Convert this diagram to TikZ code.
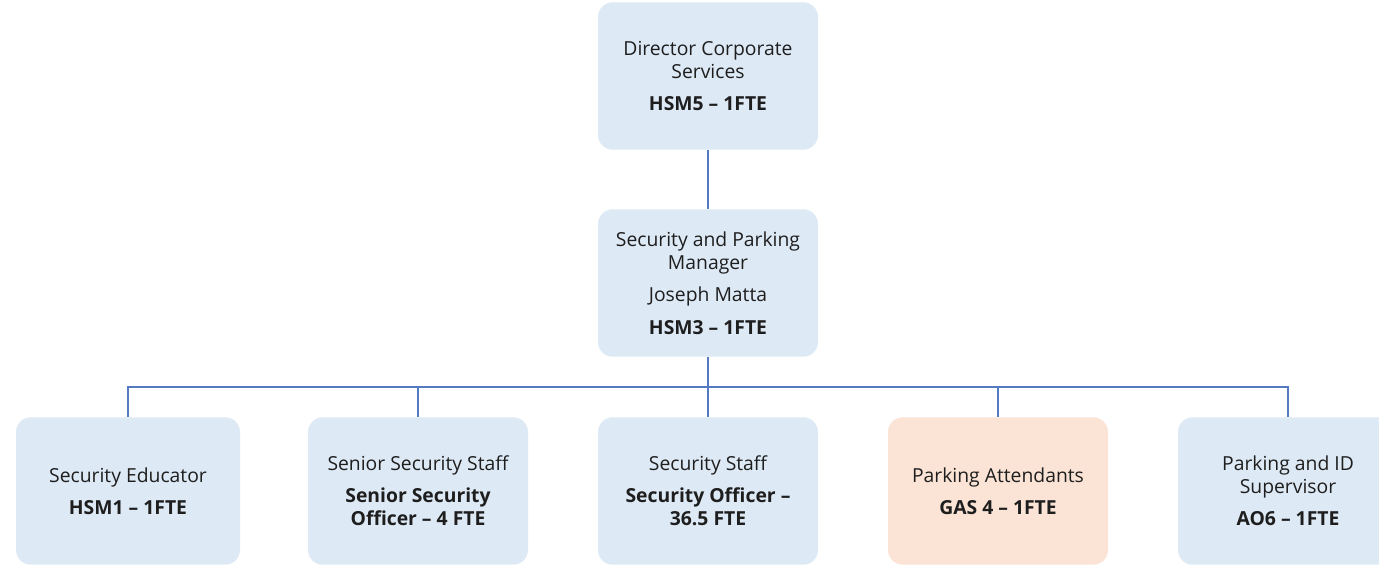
\documentclass[tikz,border=0pt]{standalone}
\usepackage{fontspec}
\setmainfont{Open Sans}
\usepackage{xcolor}
\usepackage{tikz}
\usetikzlibrary{positioning,calc}
\definecolor{boxblue}{RGB}{221,233,245}
\definecolor{boxpeach}{RGB}{251,228,214}
\definecolor{linkblue}{RGB}{84,122,196}
\definecolor{inkgray}{RGB}{30,30,30}

\begin{document}
\begin{tikzpicture}[auto,every node/.style={on grid,node distance=217.5pt},
    post/.style={rectangle,rounded corners=11pt,fill=boxblue,text=inkgray,
      minimum width=165pt,minimum height=110.5pt,align=center,
      font=\fontsize{14.5}{17.25}\selectfont},
    link/.style={draw=linkblue,line width=1.3pt}]
    \useasboundingbox (0,0) rectangle (1034.25pt,-424.5pt);
    \node[post] (Dir) at (531pt,-57pt) {Director Corporate\\Services\\[7pt]\textbf{HSM5 – 1FTE}};
    \node[post,node distance=155.25pt,below of=Dir] (Mgr) {Security and Parking\\Manager\\[7pt]Joseph Matta\\[7pt]\textbf{HSM3 – 1FTE}};
    \node[post,node distance=156pt,below of=Mgr] (Staff) {Security Staff\\[7pt]\textbf{Security Officer –}\\\textbf{36.5 FTE}};
    \node[post,left of=Staff] (Senior) {Senior Security Staff\\[7pt]\textbf{Senior Security}\\\textbf{Officer – 4 FTE}};
    \node[post,left of=Senior,minimum width=168pt] (Edu) {Security Educator\\[7pt]\textbf{HSM1 – 1FTE}};
    \node[post,fill=boxpeach,right of=Staff] (Park) {Parking Attendants\\[7pt]\textbf{GAS 4 – 1FTE}};
    \node[post,right of=Park] (Sup) {Parking and ID\\Supervisor\\[7pt]\textbf{AO6 – 1FTE}};
    \coordinate (bus) at ($(Mgr.south)!0.5!(Staff.north)$);
    \draw[link] (Dir) -- (Mgr);
    \draw[link] (Mgr) -- (Staff);
    \foreach \n in {Edu,Senior,Park,Sup}
      \draw[link] (\n.north) |- (bus);
  \end{tikzpicture}
\end{document}
